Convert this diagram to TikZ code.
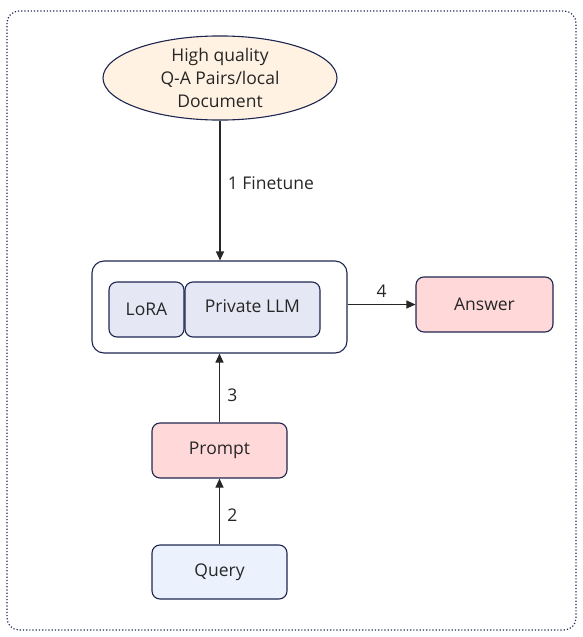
\documentclass[tikz,border=0pt]{standalone}
\usepackage{fontspec}
\setmainfont{Open Sans}
\usetikzlibrary{shapes.geometric,arrows.meta}
\definecolor{navy}{HTML}{1E2650}
\definecolor{cream}{HTML}{FFF2E2}
\definecolor{lavender}{HTML}{E6E7F5}
\definecolor{rosy}{HTML}{FFD9D9}
\definecolor{paleblue}{HTML}{ECF2FD}
\definecolor{ink}{HTML}{262626}
\begin{document}
\begin{tikzpicture}[x=1pt,y=-1pt,
    box/.style={draw=navy,line width=1.1pt,rounded corners=8pt,inner sep=0pt,font=\fontsize{17.5}{21}\selectfont,text=ink},
    flow/.style={line width=1.1pt,draw=ink,-{Triangle[length=9pt,width=8pt]}},
    num/.style={font=\fontsize{17.5}{21}\selectfont,text=ink}]
    \useasboundingbox (0,0) rectangle (583,637);
    %frame
    \draw[navy,line width=1.2pt,dotted,rounded corners=12pt] (7,11) rectangle (576,630);
    %data
    \node[ellipse,draw=navy,line width=1.1pt,fill=cream,minimum width=234pt,minimum height=76pt,inner sep=0pt,
        align=center,font=\fontsize{17.5}{23}\selectfont,text=ink] (data) at (220,78) {High quality\\Q-A Pairs/local\\Document};
    %model
    \node[box,fill=white,rounded corners=12pt,minimum width=255pt,minimum height=92pt] (model) at (219.5,307) {};
    \node[box,fill=lavender,minimum width=75pt,minimum height=55pt] (lora) at (146.5,309.5) {LoRA};
    \node[box,fill=lavender,minimum width=135pt,minimum height=55pt] (llm) at (252.5,309.5) {\raisebox{6pt}{Private LLM}};
    %answer
    \node[box,fill=rosy,minimum width=137pt,minimum height=55pt] (answer) at (484.5,304.5) {Answer};
    %prompt
    \node[box,fill=rosy,minimum width=135pt,minimum height=55pt] (prompt) at (219.5,450.5) {Prompt};
    %query
    \node[box,fill=paleblue,minimum width=135pt,minimum height=54pt] (query) at (219.5,572) {Query};
    %arrows
    \draw[flow] (data.south) -- (data.south |- model.north) node[num,pos=0.45,right=4pt] {1 Finetune};
    \draw[flow] (model.east |- answer.west) -- (answer.west) node[num,midway,above=3pt] {4};
    \draw[flow] (prompt.north) -- (prompt.north |- model.south) node[num,pos=0.4,right=4pt] {3};
    \draw[flow] (query.north) -- (prompt.south) node[num,pos=0.45,right=4pt] {2};
\end{tikzpicture}
\end{document}
